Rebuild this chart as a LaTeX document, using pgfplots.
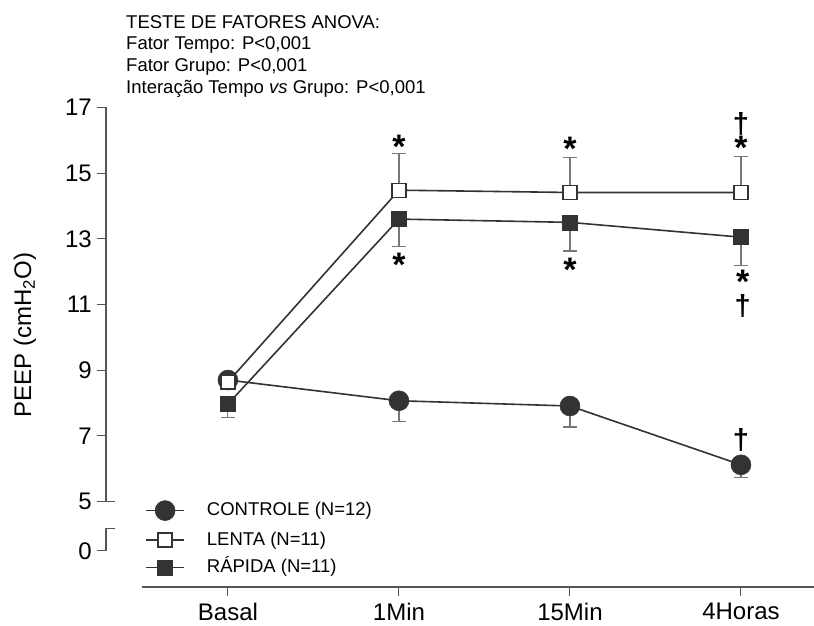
\documentclass[border=0pt]{standalone}
\usepackage{fontspec}
\setmainfont{Liberation Sans}
\usepackage{pgfplots}
\pgfplotsset{compat=1.18}
\usepackage{pgfplotstable}

\definecolor{ink}{HTML}{333333}
\definecolor{axgray}{HTML}{555555}
\definecolor{errgray}{HTML}{777777}

% time, mean, error (one-sided)
\pgfplotstableread{
x y e
0 8.70 0.30
1 8.07 0.62
2 7.91 0.64
3 6.12 0.40
}\controle
\pgfplotstableread{
x y e
0 8.64 0.20
1 14.48 1.12
2 14.41 1.06
3 14.41 1.09
}\lenta
\pgfplotstableread{
x y e
0 7.97 0.40
1 13.60 0.84
2 13.50 0.87
3 13.05 0.87
}\rapida

\newcommand\fsz[1]{\fontsize{#1}{#1}\selectfont}
\newcommand\sigast{\makebox[0pt]{\fsz{34}*}}
\newcommand\sigdag[1]{\makebox[0pt]{\raisebox{#1}{\fsz{29}\textdagger}}}

\begin{document}
\begin{tikzpicture}
\begin{axis}[
  scale only axis, width=708pt, height=479.6pt,
  xmin=-0.713, xmax=3.427, ymin=2.4, ymax=17,
  clip=false,
  axis line style={draw=none},
  xtick={0,1,2,3}, xticklabels={Basal,1Min,15Min,4Horas},
  ytick={3.5,5,7,9,11,13,15,17}, yticklabels={0,5,7,9,11,13,15,17},
  tick align=outside, xtick pos=bottom, ytick pos=left,
  major tick length=9pt,
  tick style={draw=axgray, line width=1pt},
  /pgf/number format/assume math mode=true,
  xticklabel style={font=\fsz{24}, inner sep=0pt, yshift=-7pt},
  yticklabel style={font=\fsz{24}, inner sep=0pt, xshift=-5pt},
  error bars/error bar style={draw=errgray, line width=1.1pt},
  error bars/error mark options={rotate=90, draw=errgray, line width=1.1pt, mark size=7pt},
  legend image code/.code={%
    \draw[#1, mark=none] (0pt,0pt) -- (38pt,0pt);
    \draw[#1, only marks] plot coordinates {(19pt,0pt)};},
  legend style={draw=none, fill=none, font=\fsz{18.5},
    at={(0.051,0.102)}, anchor=west,
    row sep=11.5pt, column sep=0pt,
    nodes={inner sep=0pt, text height=13pt, text depth=3pt},
    /tikz/every odd column/.append style={column sep=22pt}},
  legend cell align=left,
]
\addplot[ink, line width=1.6pt, mark=*, mark size=10pt,
  mark options={fill=ink, draw=ink, line width=0.5pt},
  error bars/.cd, y dir=minus, y explicit]
  table[x=x, y=y, y error=e] {\controle};
\addlegendentry{CONTROLE (N=12)}
\addplot[ink, line width=1.6pt, mark=square*, mark size=7pt,
  mark options={fill=white, draw=ink, line width=1.3pt},
  error bars/.cd, y dir=plus, y explicit]
  table[x=x, y=y, y error=e] {\lenta};
\addlegendentry{LENTA (N=11)}
\addplot[ink, line width=1.6pt, mark=square*, mark size=7.5pt,
  mark options={fill=ink, draw=ink, line width=0.5pt},
  error bars/.cd, y dir=minus, y explicit]
  table[x=x, y=y, y error=e] {\rapida};
\addlegendentry{R\'APIDA (N=11)}

% broken y axis and offset x axis
\draw[axgray, line width=1.2pt] (axis cs:-0.713,17) -- (axis cs:-0.713,5) -- ++(9pt,0pt);
\draw[axgray, line width=1.2pt] (axis cs:-0.713,3.5) -- (axis cs:-0.713,4.17) -- ++(9pt,0pt);
\draw[axgray, line width=1.2pt] (axis cs:-0.5,2.4) -- (axis cs:3.427,2.4);

% significance marks (* vs basal, dagger vs controle)
\begin{scope}[every node/.style={inner sep=0pt, anchor=base, font=\bfseries, yshift=-15.5pt}]
\node at (axis cs:1,15.92) {\sigast};
\node at (axis cs:1,12.31) {\sigast};
\node at (axis cs:2,15.86) {\sigast};
\node at (axis cs:2,12.18) {\sigast};
\node at (axis cs:3,15.89) {\sigast\sigdag{26.3pt}};
\node at (axis cs:3.01,11.80) {\sigast\sigdag{-21.6pt}};
\node at (axis cs:3,6.95) {\sigdag{4pt}};
\end{scope}
\end{axis}

% y label
\node[rotate=90, font=\fsz{24}] at (-81pt,252pt) {PEEP (cmH\textsubscript{2}O)};

% ANOVA summary
\node[anchor=north west, inner sep=0pt, align=left, font=\fontsize{18.5}{21.7}\selectfont]
  at (20pt,572pt) {TESTE DE FATORES ANOVA:\\
  Fator Tempo: P<0,001\\
  Fator Grupo: P<0,001\\
  Interação Tempo \textit{vs} Grupo: P<0,001};

\pgfresetboundingbox
\path[use as bounding box] (-106pt,-38pt) rectangle (708pt,587pt);
\end{tikzpicture}
\end{document}
